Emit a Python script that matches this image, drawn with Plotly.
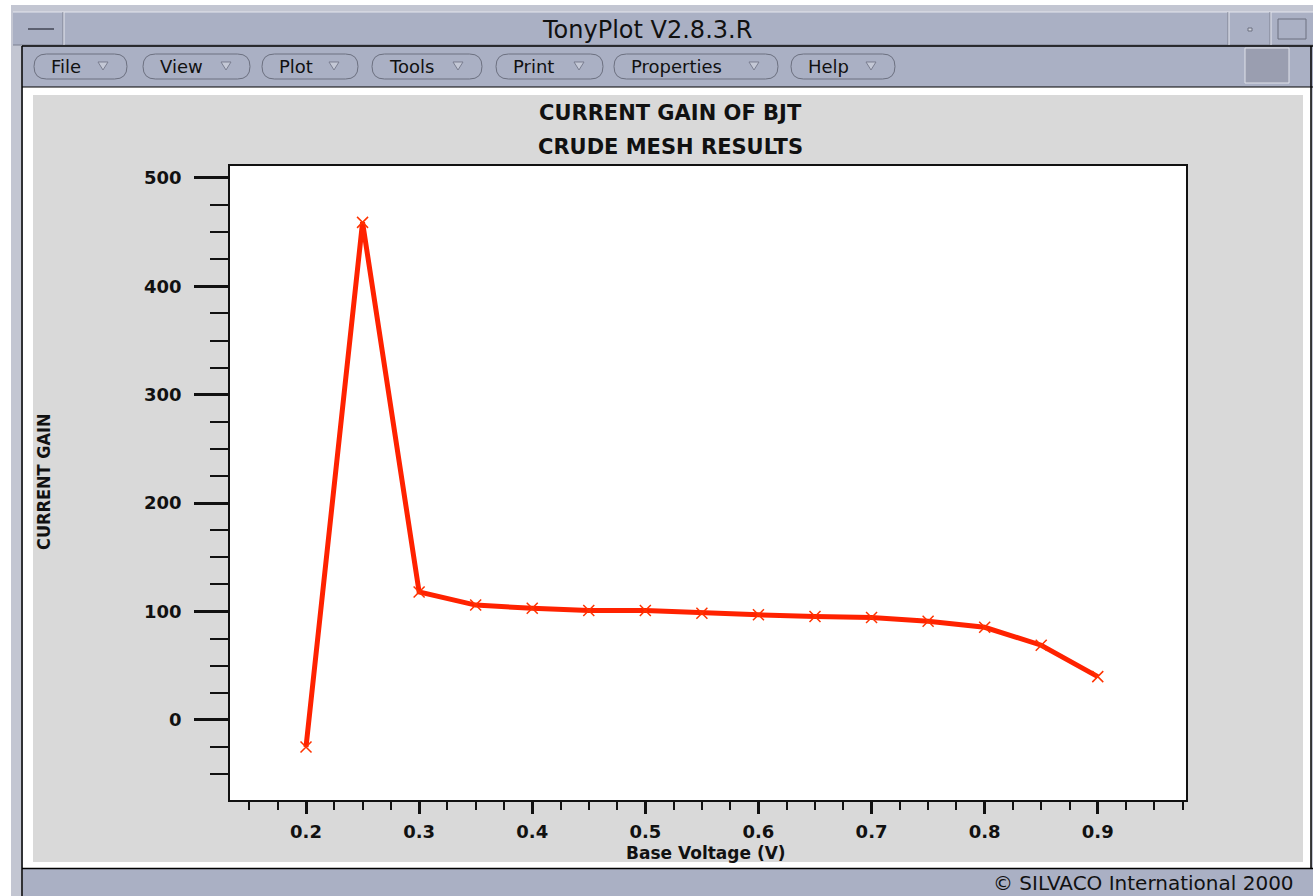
import plotly.graph_objects as go

# ---------------- data ----------------
base_voltage = [0.20, 0.25, 0.30, 0.35, 0.40, 0.45, 0.50, 0.55, 0.60, 0.65, 0.70, 0.75, 0.80, 0.85, 0.90]
current_gain = [-25, 459, 118, 106, 103, 101, 101, 98.5, 97, 95.5, 94.5, 91, 85.5, 69, 40]

x_tick_vals = [0.2, 0.3, 0.4, 0.5, 0.6, 0.7, 0.8, 0.9]
x_tick_text = ["0.2", "0.3", "0.4", "0.5", "0.6", "0.7", "0.8", "0.9"]
y_tick_vals = [0, 100, 200, 300, 400, 500]
y_tick_text = ["0", "100", "200", "300", "400", "500"]

menu_items = ["File", "View", "Plot", "Tools", "Print", "Properties", "Help"]
menu_left = [34, 143, 262, 372, 496, 614, 791]
menu_right = [127, 250, 358, 482, 603, 778, 895]

window_title = "TonyPlot V2.8.3.R"
plot_title_1 = "CURRENT GAIN OF BJT"
plot_title_2 = "CRUDE MESH RESULTS"
x_title = "Base Voltage (V)"
y_title = "CURRENT GAIN"
copyright_text = "© SILVACO International 2000"

# ---------------- geometry helpers ----------------
W, H = 1313, 896


def px(x):
    return x / W


def py(y):
    return 1 - y / H


FRAME = "#aab0c4"
PANEL = "#d9d9d9"
DARK = "#6c7080"

shapes = []


def rect(x0, y0, x1, y1, fill, line=None, lw=1):
    shapes.append(dict(type="rect", xref="paper", yref="paper",
                       x0=px(x0), x1=px(x1), y0=py(y1), y1=py(y0),
                       fillcolor=fill, layer="below",
                       line=dict(color=line if line else fill, width=lw if line else 0)))


def hline(x0, x1, y, color, lw=1):
    shapes.append(dict(type="line", xref="paper", yref="paper",
                       x0=px(x0), x1=px(x1), y0=py(y), y1=py(y),
                       line=dict(color=color, width=lw), layer="below"))


def vline(x, y0, y1, color, lw=1):
    shapes.append(dict(type="line", xref="paper", yref="paper",
                       x0=px(x), x1=px(x), y0=py(y0), y1=py(y1),
                       line=dict(color=color, width=lw), layer="below"))


def path(points_cmds, fill, line, lw=1):
    shapes.append(dict(type="path", xref="paper", yref="paper", path=points_cmds,
                       fillcolor=fill, line=dict(color=line, width=lw), layer="below"))


def P(x, y):
    return f"{px(x):.6f},{py(y):.6f}"


# window frame
rect(11, 5, 1313, 896, "#c3c6d2")
rect(13, 12, 1313, 45, FRAME)
hline(13, 1313, 12, "#e4e6ee")
hline(13, 1313, 45, "#7c8090")
vline(63, 12, 45, "#7c8090")
vline(64, 12, 45, "#e4e6ee")
hline(28, 54, 29, "#5c6070", 2)
vline(1228, 12, 45, "#7c8090")
vline(1229, 12, 45, "#e4e6ee")
vline(1270, 12, 45, "#7c8090")
vline(1271, 12, 45, "#e4e6ee")
rect(1248, 28, 1252, 31, "#d0d3dd", "#6c7080")
rect(1278, 19, 1306, 39, FRAME, "#6c7080")

# menubar
rect(22, 46, 1313, 87, FRAME)
hline(22, 1313, 46, "#000000", 1.5)
vline(22, 46, 896, "#000000", 1.5)
rect(1245, 48, 1289, 83, "#9a9eb0", "#e0e2ea")

# white client area and gray panel
rect(23, 87, 1311, 868, "#ffffff")
hline(22, 1313, 87, "#000000", 1)
vline(1311, 46, 868, "#000000", 1.5)
rect(33, 95, 1303, 862, PANEL)

# status bar
rect(23, 869, 1313, 896, FRAME)
hline(22, 1313, 868.5, "#000000", 1.5)

# plot area background (white, drawn over gray panel)
PL, PR, PT, PB = 230, 1186, 166, 800
rect(PL, PT, PR, PB, "#ffffff")

# menu pills
annotations = []
for name, l, r in zip(menu_items, menu_left, menu_right):
    t, b = 54, 79
    rr = (b - t) / 2
    m = (t + b) / 2
    d = (f"M {P(l + rr, t)} L {P(r - rr, t)} Q {P(r, t)} {P(r, m)} Q {P(r, b)} {P(r - rr, b)} "
         f"L {P(l + rr, b)} Q {P(l, b)} {P(l, m)} Q {P(l, t)} {P(l + rr, t)} Z")
    path(d, FRAME, DARK, 1)
    tx = r - 24
    tri = f"M {P(tx - 5, 62)} L {P(tx + 5, 62)} L {P(tx, 70)} Z"
    path(tri, "#c4c8d6", "#7a7e90", 1)
    annotations.append(dict(text=name, x=px(l + 15), y=py(66.5), xref="paper", yref="paper",
                            xanchor="left", yanchor="middle", showarrow=False,
                            font=dict(family="DejaVu Sans", size=18, color="#111111")))

# texts
annotations += [
    dict(text=window_title, x=px(647), y=py(30), xref="paper", yref="paper", showarrow=False,
         xanchor="center", yanchor="middle",
         font=dict(family="DejaVu Sans", size=24, color="#111111")),
    dict(text=f"<b>{plot_title_1}</b>", x=px(670), y=py(113), xref="paper", yref="paper",
         showarrow=False, xanchor="center", yanchor="middle",
         font=dict(family="DejaVu Sans", size=21, color="#111111")),
    dict(text=f"<b>{plot_title_2}</b>", x=px(670), y=py(147), xref="paper", yref="paper",
         showarrow=False, xanchor="center", yanchor="middle",
         font=dict(family="DejaVu Sans", size=21, color="#111111")),
    dict(text=f"<b>{x_title}</b>", x=px(706), y=py(853), xref="paper", yref="paper", showarrow=False,
         xanchor="center", yanchor="middle",
         font=dict(family="DejaVu Sans", size=17, color="#111111")),
    dict(text=f"<b>{y_title}</b>", x=px(43), y=py(482), xref="paper", yref="paper", showarrow=False,
         xanchor="center", yanchor="middle", textangle=-90,
         font=dict(family="DejaVu Sans Condensed, Liberation Sans Narrow, DejaVu Sans", size=18,
                   color="#111111")),
    dict(text=copyright_text, x=px(1296), y=py(883), xref="paper", yref="paper", showarrow=False,
         xanchor="right", yanchor="middle",
         font=dict(family="DejaVu Sans", size=20, color="#111111")),
]

# ---------------- figure ----------------
fig = go.Figure()
fig.add_trace(go.Scatter(
    x=base_voltage, y=current_gain, mode="lines+markers",
    line=dict(color="#ff2200", width=5),
    marker=dict(symbol="x-thin", size=11, color="#ff3300", line=dict(color="#ff3300", width=1.5)),
    showlegend=False, hoverinfo="x+y",
))

tick_font = dict(family="DejaVu Sans", size=18, color="#111111", weight="bold")

fig.update_layout(
    width=W, height=H,
    margin=dict(l=0, r=0, t=0, b=0),
    paper_bgcolor="#ffffff",
    plot_bgcolor="rgba(0,0,0,0)",
    shapes=shapes,
    annotations=annotations,
    xaxis=dict(
        domain=[px(PL), px(PR)], range=[0.1328, 0.978],
        showgrid=False, zeroline=False,
        showline=True, linecolor="#111111", linewidth=1.5, mirror=True,
        ticks="outside", ticklen=12, tickwidth=3, tickcolor="#111111",
        tickvals=x_tick_vals, ticktext=x_tick_text,
        tickfont=tick_font, ticklabelstandoff=3,
        minor=dict(tick0=0.2, dtick=0.025, ticks="outside", ticklen=8, tickwidth=1.5,
                   tickcolor="#111111", showgrid=False),
        fixedrange=True,
    ),
    yaxis=dict(
        domain=[py(PB), py(PT)], range=[-73.8, 511],
        showgrid=False, zeroline=False,
        showline=True, linecolor="#111111", linewidth=1.5, mirror=True,
        ticks="outside", ticklen=34, tickwidth=3, tickcolor="#111111",
        tickvals=y_tick_vals, ticktext=y_tick_text,
        tickfont=tick_font, ticklabelstandoff=9,
        minor=dict(tick0=0, dtick=25, ticks="outside", ticklen=18, tickwidth=1.5,
                   tickcolor="#111111", showgrid=False),
        fixedrange=True,
    ),
)

fig.write_html("out.html")
